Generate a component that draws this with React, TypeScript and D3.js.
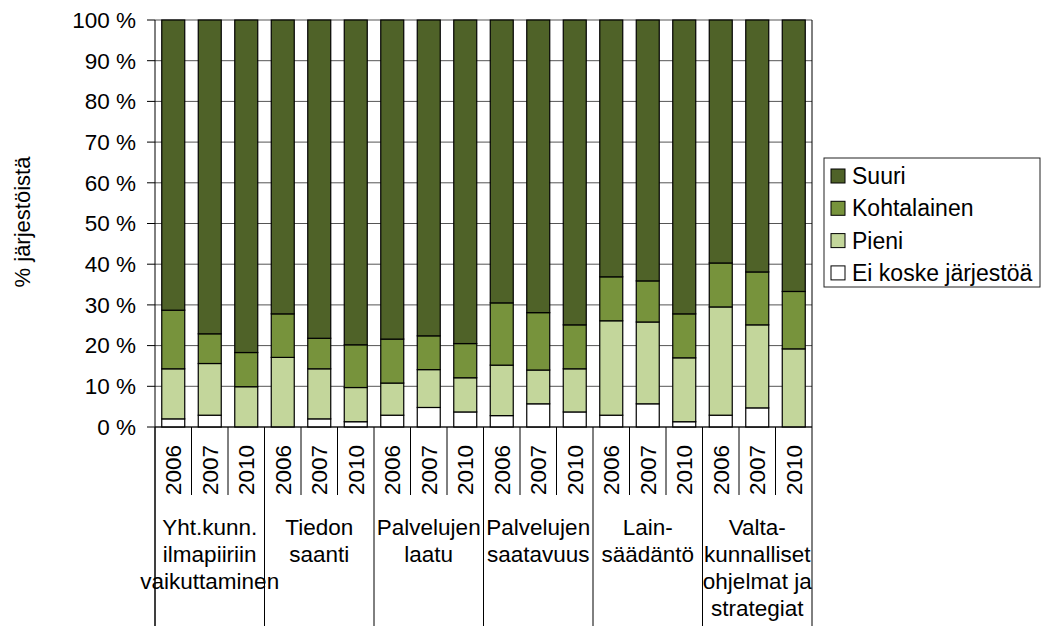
import React from "react";
import {range, scaleBand, scaleLinear, stack} from "d3";

// groups and years on the two-level x axis
const groups = [
    ["Yht.kunn.", "ilmapiiriin", "vaikuttaminen"],
    ["Tiedon", "saanti"],
    ["Palvelujen", "laatu"],
    ["Palvelujen", "saatavuus"],
    ["Lain-", "säädäntö"],
    ["Valta-", "kunnalliset", "ohjelmat ja", "strategiat"],
];
const years = ["2006", "2007", "2010"];

// series values (% of organisations), one per bar
const eiKoske = [2.0, 2.9, 0, 0, 2.0, 1.3, 2.9, 4.8, 3.7, 2.8, 5.7, 3.7, 2.9, 5.7, 1.3, 2.9, 4.7, 0];
const pieni = [12.3, 12.7, 9.9, 17.1, 12.3, 8.4, 7.9, 9.3, 8.4, 12.4, 8.3, 10.6, 23.2, 20.1, 15.7, 26.6, 20.4, 19.2];
const kohtalainen = [14.4, 7.3, 8.4, 10.7, 7.5, 10.5, 10.8, 8.3, 8.4, 15.3, 14.1, 10.8, 10.8, 10.1, 10.8, 10.8, 13.0, 14.1];
const suuri = [71.3, 77.1, 81.7, 72.2, 78.2, 79.8, 78.4, 77.6, 79.5, 69.5, 71.9, 74.9, 63.1, 64.1, 72.2, 59.7, 61.9, 66.7];

const keys = ["ei", "pieni", "kohtalainen", "suuri"];
const labels = {ei: "Ei koske järjestöä", pieni: "Pieni", kohtalainen: "Kohtalainen", suuri: "Suuri"};
const colors = {ei: "#ffffff", pieni: "#C3D69B", kohtalainen: "#77933C", suuri: "#4F6228"};

const yTicks = range(0, 101, 10);
const font = "'Liberation Sans', Arial, sans-serif";

function App() {
    const width = 1042;
    const height = 626;
    const left = 155;
    const right = 812;
    const top = 20;
    const bottom = 427;

    const rows = eiKoske.map((d, i) => ({
        idx: i,
        ei: d,
        pieni: pieni[i],
        kohtalainen: kohtalainen[i],
        suuri: suuri[i],
    }));
    const layers = stack().keys(keys)(rows);

    const xScale = scaleBand()
        .domain(rows.map(d => d.idx))
        .range([left, right])
        .paddingInner(0.37)
        .paddingOuter(0.185);
    const step = xScale.step();
    const yScale = scaleLinear().domain([0, 100]).range([bottom, top]);

    const bandStart = i => left + i * step;

    return (
        <svg width={width} height={height}
             style={{position: "absolute", left: 0, top: 0, background: "#fff"}}
             fontFamily={font}>
            {/* gridlines */}
            {yTicks.map(t => (
                <line key={"g" + t} x1={left} x2={right} y1={yScale(t)} y2={yScale(t)}
                      stroke="#555" strokeWidth={1}/>
            ))}
            <line x1={right} x2={right} y1={top} y2={height} stroke="#000"/>

            {/* bars */}
            {layers.map(layer => (
                <g key={layer.key} fill={colors[layer.key]}>
                    {layer.filter(s => s[1] - s[0] > 0).map(s => (
                        <rect key={s.data.idx}
                              x={xScale(s.data.idx)}
                              width={xScale.bandwidth()}
                              y={yScale(s[1])}
                              height={yScale(s[0]) - yScale(s[1])}
                              stroke="#000" strokeWidth={1.2}/>
                    ))}
                </g>
            ))}

            {/* y axis */}
            <line x1={left} x2={left} y1={top} y2={height} stroke="#000"/>
            {yTicks.map(t => (
                <g key={"t" + t}>
                    <line x1={left - 8} x2={left} y1={yScale(t)} y2={yScale(t)} stroke="#000"/>
                    <text x={left - 19} y={yScale(t)} dy="0.35em" textAnchor="end" fontSize={22.5}>
                        {t} %
                    </text>
                </g>
            ))}
            <text transform={`translate(22, 222) rotate(-90)`} textAnchor="middle" dy="0.35em"
                  fontSize={22}>% järjestöistä</text>

            {/* x axis */}
            <line x1={left} x2={right} y1={bottom} y2={bottom} stroke="#000"/>
            {rows.map(d => (
                <g key={"x" + d.idx}>
                    {d.idx % 3 !== 0 &&
                        <line x1={bandStart(d.idx)} x2={bandStart(d.idx)} y1={bottom} y2={495}
                              stroke="#000"/>}
                    {d.idx % 3 === 0 &&
                        <line x1={bandStart(d.idx)} x2={bandStart(d.idx)} y1={bottom} y2={height}
                              stroke="#000"/>}
                    <text transform={`translate(${xScale(d.idx) + xScale.bandwidth() / 2}, 495) rotate(-90)`}
                          dy="0.35em" fontSize={22.5}>{years[d.idx % 3]}</text>
                </g>
            ))}
            {groups.map((g, gi) => (
                <text key={"grp" + gi} x={bandStart(gi * 3) + step * 1.5} textAnchor="middle" fontSize={22.5}>
                    {g.map((line, li) => (
                        <tspan key={li} x={bandStart(gi * 3) + step * 1.5} y={535 + li * 27}>{line}</tspan>
                    ))}
                </text>
            ))}

            {/* legend */}
            <rect x={824} y={158} width={216} height={129} fill="#fff" stroke="#222"/>
            {keys.slice().reverse().map((k, i) => (
                <g key={"l" + k} transform={`translate(831, ${176 + i * 32.3})`}>
                    <rect x={0} y={-7} width={14} height={14} fill={colors[k]} stroke="#000"/>
                    <text x={21} dy="0.35em" fontSize={23}>{labels[k]}</text>
                </g>
            ))}
        </svg>
    );
}

export default App;
